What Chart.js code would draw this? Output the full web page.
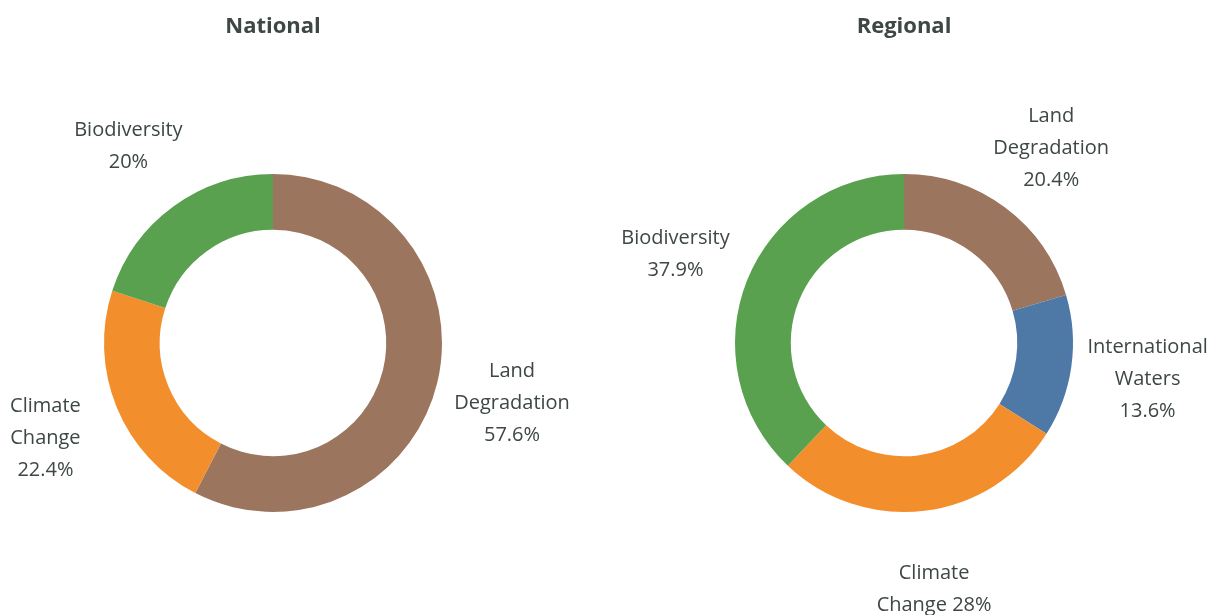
<!DOCTYPE html>
<html>
<head>
<meta charset="utf-8">
<script src="https://cdn.jsdelivr.net/npm/chart.js@4/dist/chart.umd.min.js"></script>
<style>
  html, body { margin: 0; padding: 0; background: #fff; }
  #wrap { position: relative; width: 1212px; height: 615px; }
  canvas { position: absolute; top: 0; }
  #natCanvas { left: 0; }
  #regCanvas { left: 606px; }
</style>
</head>
<body>
<div id="wrap">
  <canvas id="natCanvas" width="606" height="615"></canvas>
  <canvas id="regCanvas" width="606" height="615"></canvas>
</div>
<script>
// National
var natCategories = ["Land Degradation", "Climate Change", "Biodiversity"];
var natValues = [57.6, 22.4, 20];
var natLabelLines = [["Land", "Degradation", "57.6%"], ["Climate", "Change", "22.4%"], ["Biodiversity", "20%"]];
var natColors = ['#9C755F', '#F28E2B', '#59A14F'];

// Regional
var regCategories = ["Land Degradation", "International Waters", "Climate Change", "Biodiversity"];
var regValues = [20.4, 13.6, 28, 37.9];
var regLabelLines = [["Land", "Degradation", "20.4%"], ["International", "Waters", "13.6%"], ["Climate", "Change 28%"], ["Biodiversity", "37.9%"]];
var regColors = ['#9C755F', '#4E79A7', '#F28E2B', '#59A14F'];

var textColor = '#3d4743';
var fontFamily = '"Open Sans", "Noto Sans", sans-serif';

// labels sit outside the ring, centred on each slice's middle angle
var outsideLabels = {
  id: 'outsideLabels',
  afterDatasetsDraw: function(chart, args, opts) {
    var ctx = chart.ctx;
    var meta = chart.getDatasetMeta(0);
    ctx.save();
    ctx.font = '20px ' + fontFamily;
    ctx.fillStyle = textColor;
    ctx.textAlign = 'center';
    ctx.textBaseline = 'middle';
    meta.data.forEach(function(arc, i) {
      var p = arc.getProps(['x', 'y', 'startAngle', 'endAngle', 'outerRadius'], true);
      var mid = (p.startAngle + p.endAngle) / 2;
      var r = p.outerRadius + 77;
      var cx = p.x + Math.cos(mid) * r;
      var cy = p.y + Math.sin(mid) * r + 2;
      var lines = opts.lines[i];
      var lh = 32;
      var top = cy - (lines.length - 1) * lh / 2;
      lines.forEach(function(t, j) {
        ctx.fillText(t, cx, top + j * lh);
      });
    });
    ctx.restore();
  }
};

function makeDonut(id, title, cats, vals, colors, lines, padRight) {
  return new Chart(document.getElementById(id).getContext('2d'), {
    type: 'doughnut',
    data: {
      labels: cats,
      datasets: [{
        data: vals,
        backgroundColor: colors,
        borderWidth: 0
      }]
    },
    options: {
      responsive: false,
      animation: false,
      cutout: '67%',
      layout: { padding: { top: 0, bottom: 103, left: 0, right: padRight } },
      plugins: {
        legend: { display: false },
        tooltip: { enabled: false },
        title: {
          display: true,
          text: title,
          color: textColor,
          font: { family: fontFamily, size: 22, weight: 'bold' },
          padding: { top: 14, bottom: 133.6 }
        },
        outsideLabels: { lines: lines }
      }
    },
    plugins: [outsideLabels]
  });
}

makeDonut('natCanvas', 'National', natCategories, natValues, natColors, natLabelLines, 60);
makeDonut('regCanvas', 'Regional', regCategories, regValues, regColors, regLabelLines, 10);
</script>
</body>
</html>
